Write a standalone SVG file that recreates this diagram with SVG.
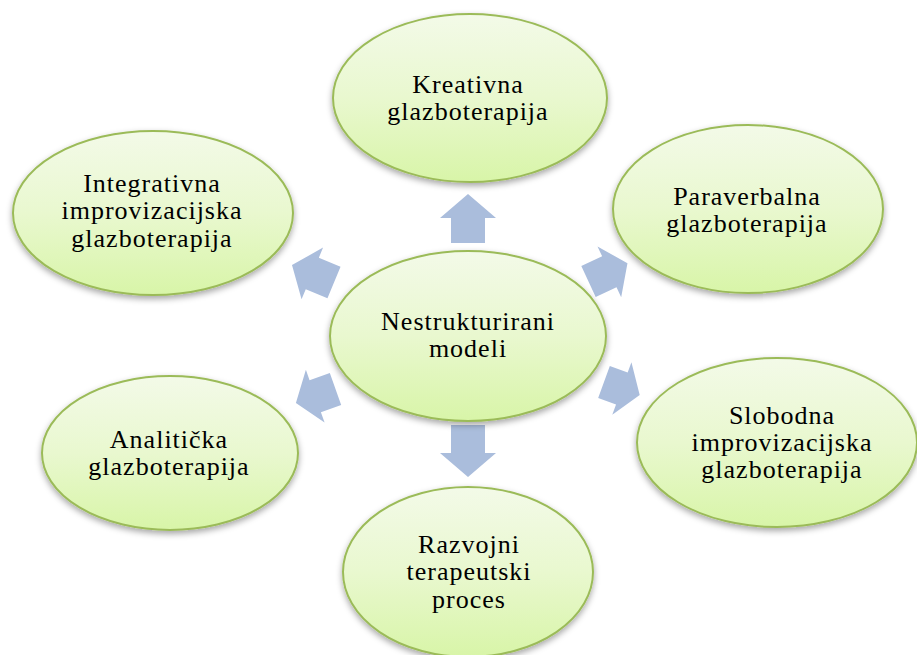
<svg xmlns="http://www.w3.org/2000/svg" width="917" height="655" viewBox="0 0 917 655">
<defs>
<linearGradient id="g" x1="0" y1="0" x2="0" y2="1">
<stop offset="0" stop-color="#f3fae8"/>
<stop offset="0.5" stop-color="#e9f8cf"/>
<stop offset="1" stop-color="#d8f5a8"/>
</linearGradient>
<filter id="sh" x="-20%" y="-20%" width="140%" height="150%">
<feDropShadow dx="0" dy="3" stdDeviation="3" flood-color="#000" flood-opacity="0.35"/>
</filter>
</defs>
<style>
.node ellipse{fill:url(#g);stroke:#9bbb59;stroke-width:2;filter:url(#sh)}
.node text{font-family:"Liberation Serif","Times New Roman",serif;font-size:26px;fill:#000;text-anchor:middle;letter-spacing:1px}
.arr{fill:#aabddc}
</style>
<rect width="917" height="655" fill="#fff"/>
<g id="connectors">
<polygon class="arr" transform="translate(468,243) rotate(-90)" points="0,-17 25,-17 25,-28 49,0 25,28 25,17 0,17"/>
<polygon class="arr" transform="translate(468,425) rotate(90)" points="0,-17 28,-17 28,-28 52,0 28,28 28,17 0,17"/>
<polygon class="arr" transform="translate(588.5,281.5) rotate(-25)" points="0,-17 23,-17 23,-28 43,0 23,28 23,17 0,17"/>
<polygon class="arr" transform="translate(604,382) rotate(20)" points="0,-17 19,-17 19,-28 38,0 19,28 19,17 0,17"/>
<polygon class="arr" transform="translate(334,282.5) rotate(202.6)" points="0,-17 23.5,-17 23.5,-28 45.5,0 23.5,28 23.5,17 0,17"/>
<polygon class="arr" transform="translate(335.5,389) rotate(160.5)" points="0,-17 21.5,-17 21.5,-28 42,0 21.5,28 21.5,17 0,17"/>
</g>
<g id="center" class="node">
<ellipse cx="468" cy="336" rx="138" ry="85"/>
<text x="468" y="330">Nestrukturirani</text>
<text x="468" y="357">modeli</text>
</g>
<g id="kreativna" class="node">
<ellipse cx="470" cy="98" rx="137" ry="84"/>
<text x="468" y="93">Kreativna</text>
<text x="468" y="120">glazboterapija</text>
</g>
<g id="paraverbalna" class="node">
<ellipse cx="748" cy="209" rx="135" ry="84"/>
<text x="747" y="205">Paraverbalna</text>
<text x="747" y="232">glazboterapija</text>
</g>
<g id="slobodna" class="node">
<ellipse cx="777" cy="442.5" rx="140" ry="84.5"/>
<text x="782" y="424">Slobodna</text>
<text x="782" y="451">improvizacijska</text>
<text x="782" y="478">glazboterapija</text>
</g>
<g id="razvojni" class="node">
<ellipse cx="468" cy="572" rx="125" ry="85"/>
<text x="469" y="553">Razvojni</text>
<text x="469" y="580">terapeutski</text>
<text x="469" y="608">proces</text>
</g>
<g id="analiticka" class="node">
<ellipse cx="170" cy="453" rx="128" ry="77"/>
<text x="169" y="448">Analitička</text>
<text x="169" y="475">glazboterapija</text>
</g>
<g id="integrativna" class="node">
<ellipse cx="153" cy="213" rx="140" ry="82"/>
<text x="152" y="192">Integrativna</text>
<text x="152" y="219">improvizacijska</text>
<text x="152" y="247">glazboterapija</text>
</g>
</svg>
